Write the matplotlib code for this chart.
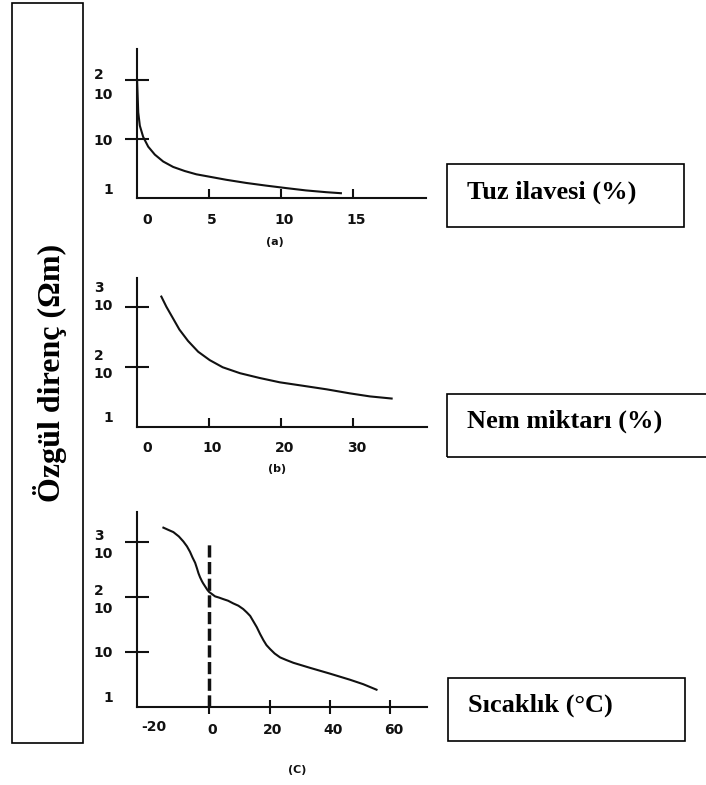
import matplotlib.pyplot as plt
from matplotlib.patches import Rectangle
from matplotlib.ticker import NullLocator
from matplotlib.transforms import ScaledTranslation

# -------- Data --------
# (a) salt addition vs resistivity
salt_pct = [0.02, 0.1, 0.21, 0.44, 0.79, 1.25, 1.83, 2.52, 3.32, 4.13, 5.05,
            6.2, 7.59, 8.97, 10.35, 11.73, 13.12, 14.15]
salt_rho = [100, 28.5, 17.0, 11.0, 7.5, 5.5, 4.2, 3.4, 2.9, 2.55, 2.32,
            2.06, 1.82, 1.64, 1.49, 1.36, 1.27, 1.22]

# (b) moisture vs resistivity
moist_pct = [3.4, 4.1, 5.0, 5.9, 7.1, 8.5, 10.1, 11.9, 14.3, 17.0, 19.8,
             23.1, 26.3, 29.5, 32.3, 35.3]
moist_rho = [1480, 1000, 646, 417, 269, 178, 129, 98, 78, 65, 55,
             48, 42, 36, 32, 29.5]

# (c) temperature vs resistivity
temp_c = [-15.1, -13.5, -11.8, -10.0, -8.5, -7.3, -6.3, -5.5, -4.6, -4.0,
          -3.5, -3.0, -2.4, -2.0, -1.3, -0.6, 0.0, 1.0, 2.0, 3.3, 4.7,
          6.3, 8.0, 9.7, 11.3, 12.5, 13.6, 14.7, 15.8, 16.9, 18.0, 19.0,
          20.2, 21.7, 23.5, 25.5, 27.9, 33.4, 40.0, 46.6, 51.0, 55.4]
temp_rho = [1820, 1660, 1510, 1260, 1020, 830, 661, 525, 417, 331,
            269, 229, 195, 178, 155, 135, 123, 112, 102, 97, 91,
            85, 76, 69, 60, 52, 45, 35.5, 28, 21, 16.2, 13.2,
            11.2, 9.3, 7.9, 7.1, 6.3, 5.1, 4.0, 3.1, 2.57, 2.04]
freeze_c = 0
freeze_top = 1000

salt_ticks = [0, 5, 10, 15]
moist_ticks = [0, 10, 20, 30]
temp_ticks = [-20, 0, 20, 40, 60]

ya_ticks = [1, 10, 100]
ya_labels = ['1', '10', '2\n10']
yb_ticks = [10, 100, 1000]
yb_labels = ['1', '2\n10', '3\n10']
yc_ticks = [1, 10, 100, 1000]
yc_labels = ['1', '10', '2\n10', '3\n10']

box_labels = ['Tuz ilavesi (%)', 'Nem miktarı (%)', 'Sıcaklık (°C)']
ylabel_text = 'Özgül direnç (Ωm)'
captions = ['(a)', '(b)', '(C)']

W, H = 706, 785
fig = plt.figure(figsize=(W / 100, H / 100), dpi=100)
INK = '#111111'


def rect(l, t, r, b):
    return [l / W, 1 - b / H, (r - l) / W, (b - t) / H]


def shift(lab, dx, dy):
    lab.set_transform(lab.get_transform() +
                      ScaledTranslation(dx / 100, -dy / 100, fig.dpi_scale_trans))


def make_panel(box, x, y, xticks, yticks, ylabels, xlim, ylim, xdir, xlen, xpad,
               spacing):
    ax = fig.add_axes(rect(*box))
    ax.set_facecolor('none')
    ax.plot(x, y, color=INK, lw=1.5)
    ax.set_yscale('log')
    ax.set_xlim(*xlim)
    ax.set_ylim(*ylim)
    ax.yaxis.set_minor_locator(NullLocator())
    for s in ['top', 'right']:
        ax.spines[s].set_visible(False)
    for s in ['left', 'bottom']:
        ax.spines[s].set_linewidth(1.5)
        ax.spines[s].set_color(INK)
    ax.set_xticks(xticks, [str(t) for t in xticks])
    ax.set_yticks(yticks, ylabels)
    ax.tick_params(axis='y', direction='inout', length=17, width=1.5,
                   pad=8.5, labelsize=10, colors=INK)
    ax.tick_params(axis='x', direction=xdir, length=xlen, width=1.5,
                   pad=xpad, labelsize=10, colors=INK)
    for lab in ax.get_xticklabels() + ax.get_yticklabels():
        lab.set_fontweight('bold')
    for lab in ax.get_yticklabels():
        lab.set_multialignment('left')
        lab.set_linespacing(spacing)
    # no tick mark on the bottom "1" label
    ax.yaxis.get_major_ticks()[0].tick1line.set_visible(False)
    shift(ax.get_yticklabels()[0], 0, -10)
    for lab in ax.get_xticklabels():
        shift(lab, 3, 0)
    return ax


# -------- Panels --------
ax_a = make_panel((136.8, 49, 426, 198.3), salt_pct, salt_rho, salt_ticks,
                  ya_ticks, ya_labels, (0, 20.05), (1, 10 ** 2.53), 'in', 6.5, 10.5,
                  1.6)
ax_a.xaxis.get_major_ticks()[0].tick1line.set_visible(False)
shift(ax_a.get_xticklabels()[0], 7, 0)

ax_b = make_panel((136.8, 278, 427, 426.7), moist_pct, moist_rho, moist_ticks,
                  yb_ticks, yb_labels, (0, 40.2), (10, 10 ** 3.48), 'in', 6.5, 10.5,
                  1.35)
ax_b.xaxis.get_major_ticks()[0].tick1line.set_visible(False)
shift(ax_b.get_xticklabels()[0], 7, 0)
shift(ax_b.get_yticklabels()[1], 0, -5)
shift(ax_b.get_yticklabels()[2], 0, -13)

ax_c = make_panel((136.8, 512, 427, 706.7), temp_c, temp_rho, temp_ticks,
                  yc_ticks, yc_labels, (-23.9, 72.1), (1, 10 ** 3.545), 'inout', 10, 6.5,
                  1.35)
ax_c.xaxis.get_major_ticks()[0].tick1line.set_visible(False)
shift(ax_c.get_xticklabels()[0], 2, -3)
ax_c.vlines(freeze_c, yc_ticks[0], freeze_top, colors=INK, lw=2.5,
            linestyles=(0, (3.5, 1.3)))

# -------- Captions --------
for txt, (px, py) in zip(captions, [(275, 242), (277, 469), (297, 770)]):
    fig.text(px / W, 1 - py / H, txt, ha='center', va='center',
             fontsize=8, fontweight='bold', color=INK)

# -------- Boxes with axis names --------
serif = ['Liberation Serif', 'DejaVu Serif']
boxes = [(447, 164, 684, 227, 192), (447, 394, 712, 457, 421.5),
         (448, 678, 685, 741, 705)]
for txt, (l, t, r, b, ty) in zip(box_labels, boxes):
    fig.add_artist(Rectangle((l / W, 1 - b / H), (r - l) / W, (b - t) / H,
                             transform=fig.transFigure, fill=False,
                             lw=1.2, edgecolor='black'))
    fig.text((l + 20) / W, 1 - ty / H, txt, ha='left', va='center',
             fontsize=19, fontweight='bold', family=serif)

fig.add_artist(Rectangle((12 / W, 1 - 743 / H), 71 / W, 740 / H,
                         transform=fig.transFigure, fill=False,
                         lw=1.2, edgecolor='black'))
fig.text(50 / W, 1 - 373 / H, ylabel_text, rotation=90, ha='center',
         va='center', fontsize=23, fontweight='bold', family=serif)

fig.savefig('out.png', dpi=100, facecolor='white')
